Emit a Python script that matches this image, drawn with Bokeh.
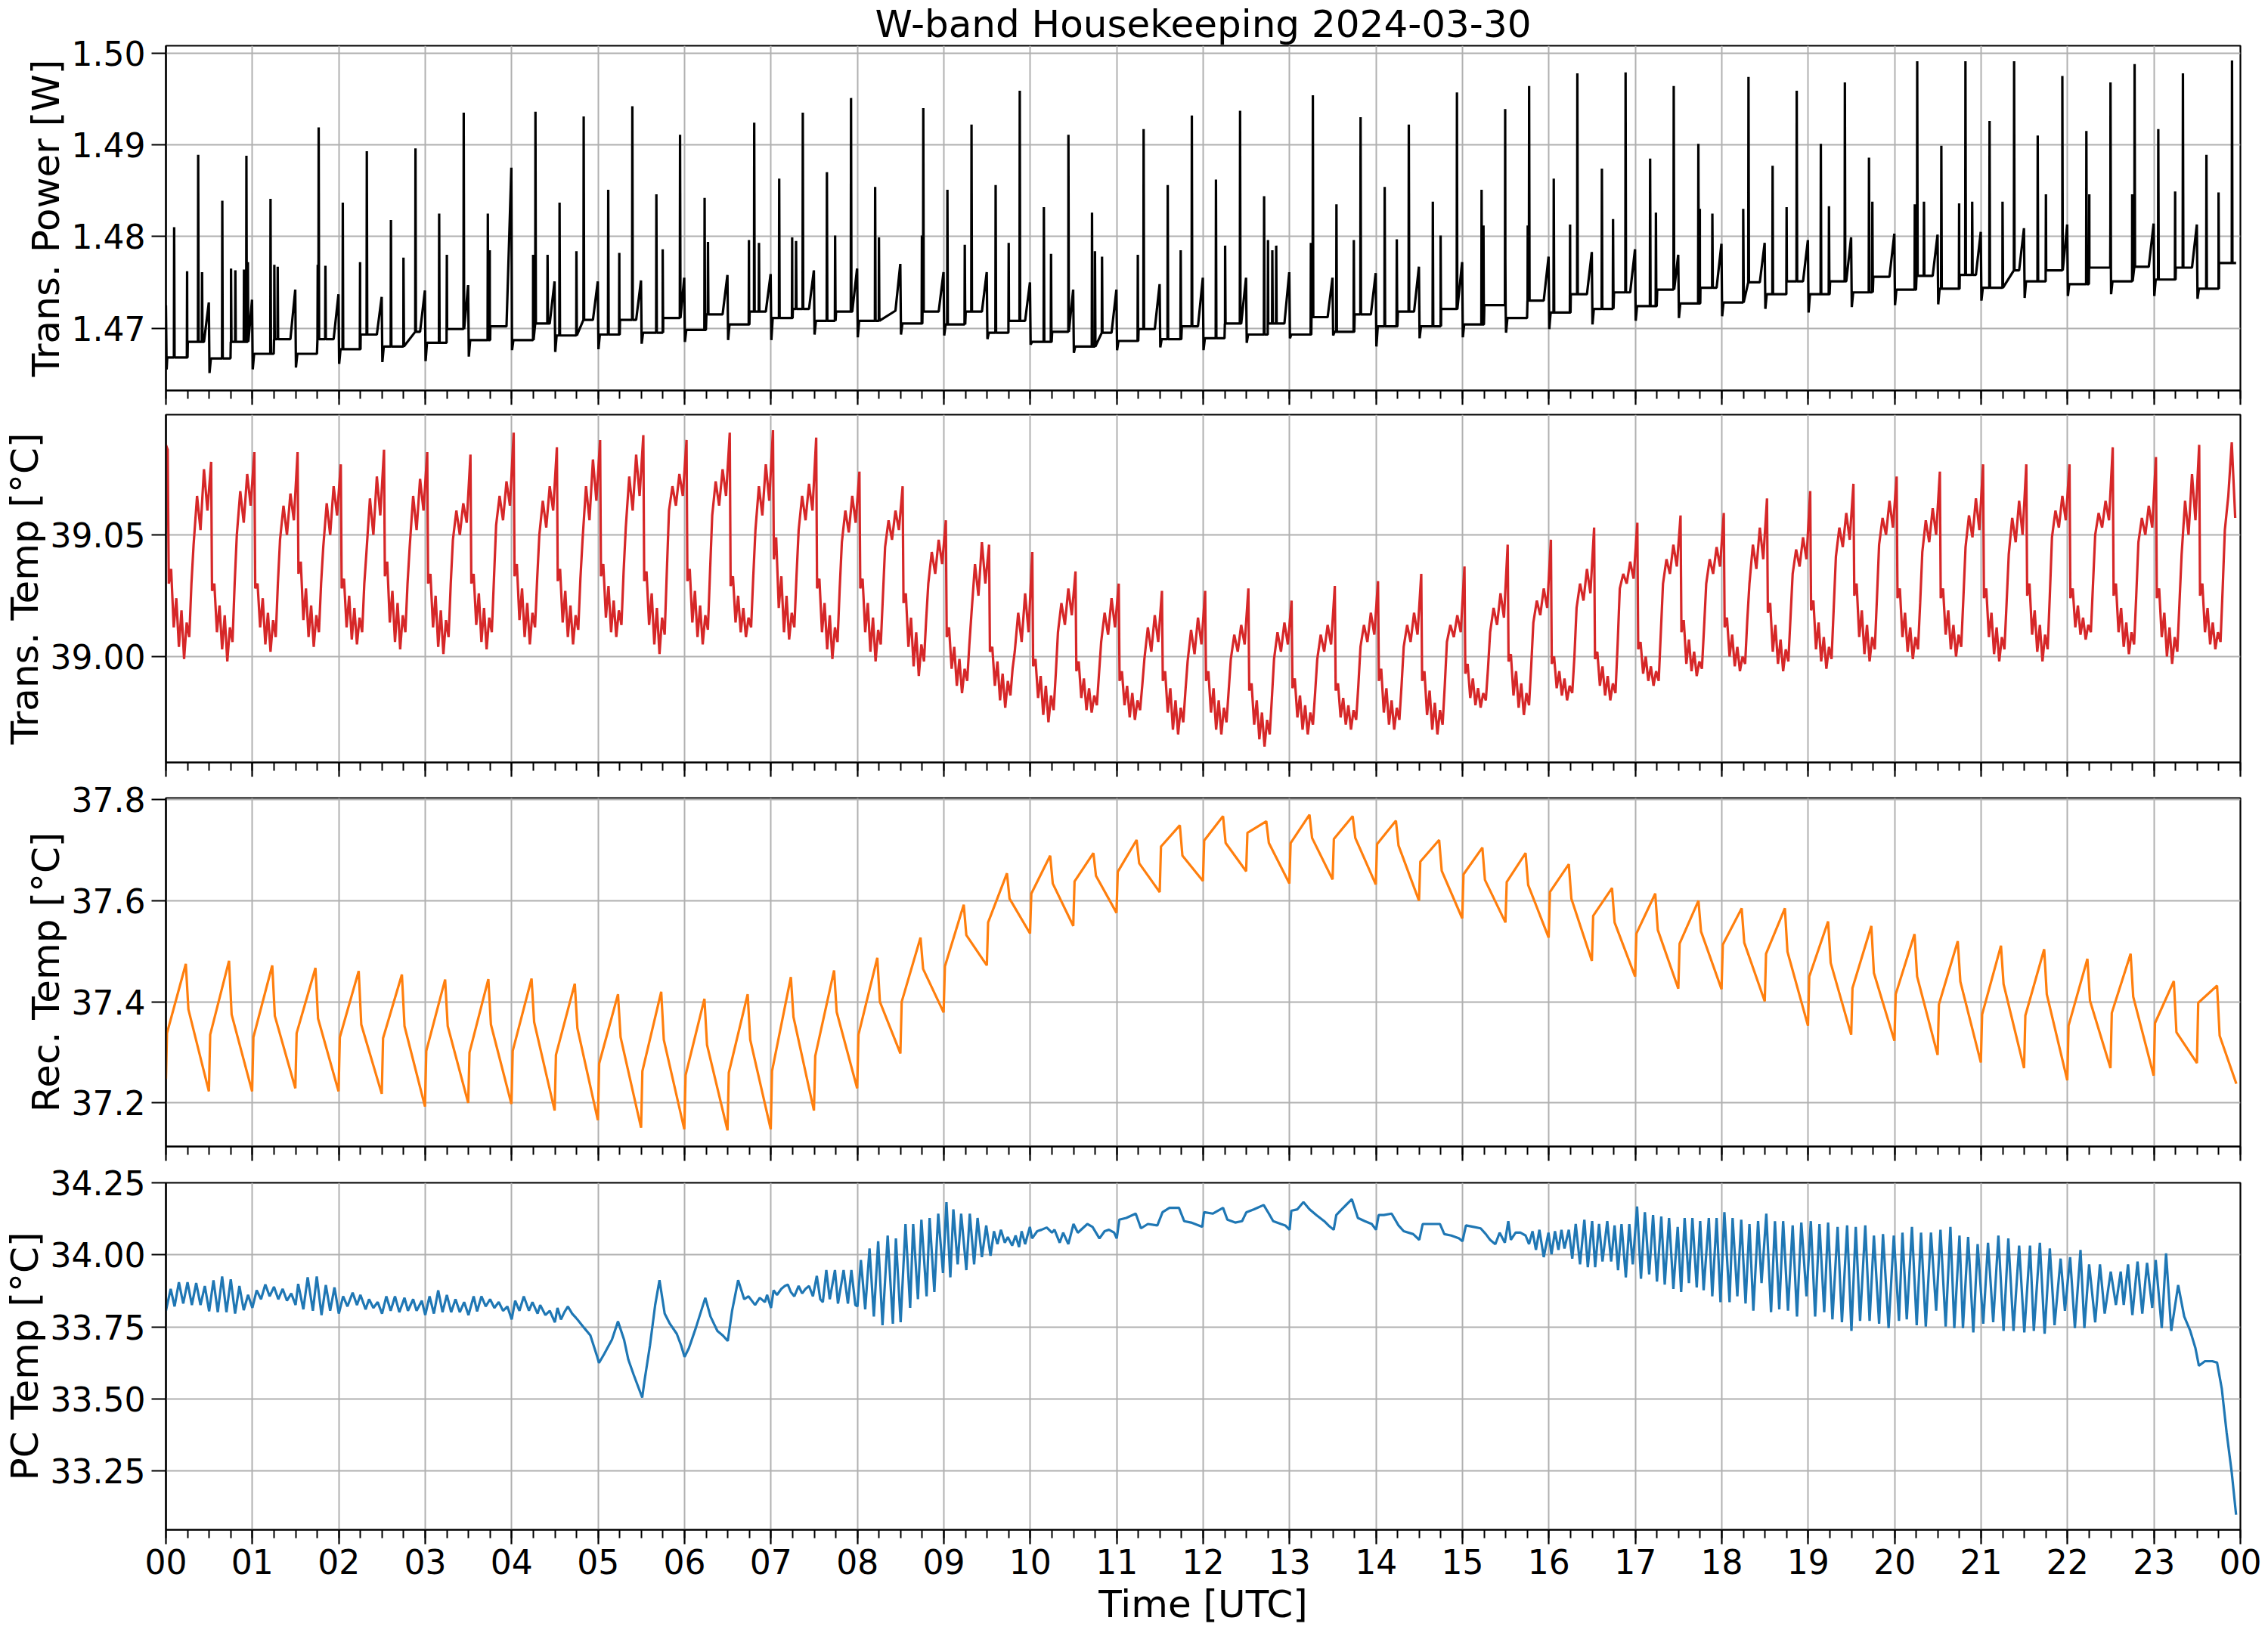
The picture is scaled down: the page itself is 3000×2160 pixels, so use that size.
from bokeh.plotting import figure
from bokeh.layouts import column
from bokeh.models import FixedTicker, PrintfTickFormatter, Range1d
from bokeh.embed import file_html
from bokeh.resources import INLINE

# ---------------- common axis data ----------------
hour_ticks = list(range(25))
hour_labels = ["00", "01", "02", "03", "04", "05", "06", "07", "08", "09", "10", "11",
               "12", "13", "14", "15", "16", "17", "18", "19", "20", "21", "22", "23", "00"]
quarter_ticks = [i * 0.25 for i in range(97)]
t_end = 23.953

# ---------------- Trans. Power [W] ----------------
pw_start = [1.4725, 1.4655]
# baseline level for each quarter hour (00:00-00:15, 00:15-00:30, ...)
pw_level = [1.4668, 1.4685, 1.4667, 1.4685, 1.4672, 1.4688, 1.4672, 1.4688,
            1.4677, 1.4693, 1.4680, 1.4696, 1.4684, 1.4699, 1.4687, 1.4702,
            1.4687, 1.4705, 1.4692, 1.4709, 1.4693, 1.4709, 1.4695, 1.4711,
            1.4698, 1.4715, 1.4704, 1.4718, 1.4711, 1.4721, 1.4708, 1.4718,
            1.4708, 1.4719, 1.4705, 1.4718, 1.4704, 1.4718, 1.4695, 1.4708,
            1.4685, 1.4696, 1.4680, 1.4695, 1.4686, 1.4699, 1.4688, 1.4702,
            1.4689, 1.4705, 1.4693, 1.4705, 1.4693, 1.4712, 1.4696, 1.4715,
            1.4702, 1.4718, 1.4702, 1.4721, 1.4704, 1.4725, 1.4711, 1.4730,
            1.4717, 1.4737, 1.4721, 1.4739, 1.4724, 1.4742, 1.4727, 1.4744,
            1.4728, 1.4750, 1.4737, 1.4751, 1.4737, 1.4751, 1.4739, 1.4756,
            1.4742, 1.4757, 1.4743, 1.4758, 1.4744, 1.4763, 1.4751, 1.4763,
            1.4748, 1.4766, 1.4751, 1.4767, 1.4753, 1.4766, 1.4743, 1.4771]
# ramp peak just before each half-hour drop (00:30, 01:00, ... 23:30)
pw_ramp = [1.4728, 1.4731, 1.4742, 1.4737, 1.4734, 1.4741, 1.4747, 1.4875,
           1.4751, 1.4751, 1.4752, 1.4755, 1.4758, 1.4759, 1.4763, 1.4765,
           1.4770, 1.4761, 1.4761, 1.4750, 1.4742, 1.4742, 1.4748, 1.4755,
           1.4755, 1.4761, 1.4755, 1.4760, 1.4767, 1.4772, 1.4775, 1.4778,
           1.4783, 1.4786, 1.4780, 1.4792, 1.4793, 1.4796, 1.4799, 1.4803,
           1.4802, 1.4805, 1.4809, 1.4813, 1.4815, 1.4814, 1.4813]
# dip right after each half-hour drop
pw_dip = [1.4651, 1.4655, 1.4657, 1.4661, 1.4663, 1.4664, 1.4669, 1.4676,
          1.4674, 1.4677, 1.4683, 1.4685, 1.4687, 1.4687, 1.4693, 1.4690,
          1.4693, 1.4692, 1.4688, 1.4682, 1.4673, 1.4676, 1.4679, 1.4676,
          1.4684, 1.4689, 1.4692, 1.4680, 1.4689, 1.4690, 1.4695, 1.4699,
          1.4704, 1.4708, 1.4711, 1.4713, 1.4721, 1.4717, 1.4723, 1.4725,
          1.4726, 1.4730, 1.4733, 1.4735, 1.4737, 1.4735, 1.4732]
pw_spike_t = [0.095, 0.245, 0.373, 0.418, 0.652, 0.753, 0.803, 0.903, 0.931, 0.948,
              1.210, 1.254, 1.293, 1.756, 1.767, 1.845, 2.046, 2.246, 2.324, 2.603,
              2.748, 2.887, 3.161, 3.250, 3.445, 3.724, 3.746, 4.248, 4.275, 4.415,
              4.554, 4.749, 4.833, 5.117, 5.245, 5.396, 5.674, 5.747, 5.948, 6.232,
              6.271, 6.745, 6.806, 6.861, 7.095, 7.245, 7.290, 7.368, 7.647, 7.742,
              7.926, 8.205, 8.249, 8.746, 8.762, 9.041, 9.242, 9.320, 9.599, 9.750,
              9.878, 10.157, 10.240, 10.441, 10.714, 10.748, 10.830, 11.244, 11.311, 11.590,
              11.740, 11.869, 12.148, 12.254, 12.427, 12.705, 12.750, 12.800, 12.845, 13.246,
              13.269, 13.542, 13.743, 13.821, 14.100, 14.240, 14.379, 14.657, 14.747, 14.936,
              15.221, 15.243, 15.494, 15.755, 15.771, 16.056, 16.245, 16.329, 16.613, 16.742,
              16.887, 17.171, 17.238, 17.444, 17.729, 17.746, 17.891, 18.248, 18.309, 18.588,
              18.750, 18.867, 19.146, 19.240, 19.424, 19.703, 19.742, 20.233, 20.261, 20.339,
              20.540, 20.746, 20.819, 20.897, 21.098, 21.248, 21.382, 21.655, 21.750, 21.940,
              22.218, 22.252, 22.497, 22.748, 22.776, 23.050, 23.245, 23.335, 23.607, 23.747,
              23.903]
pw_spike_v = [1.4810, 1.4762, 1.4889, 1.4761, 1.4839, 1.4765, 1.4763, 1.4764, 1.4888, 1.4772,
              1.4841, 1.4769, 1.4767, 1.4769, 1.4919, 1.4768, 1.4837, 1.4772, 1.4893, 1.4818,
              1.4777, 1.4896, 1.4825, 1.4780, 1.4935, 1.4825, 1.4785, 1.4780, 1.4936, 1.4780,
              1.4837, 1.4784, 1.4931, 1.4851, 1.4782, 1.4942, 1.4846, 1.4786, 1.4911, 1.4842,
              1.4794, 1.4796, 1.4924, 1.4793, 1.4863, 1.4799, 1.4795, 1.4935, 1.4870, 1.4801,
              1.4951, 1.4854, 1.4799, 1.4801, 1.4940, 1.4851, 1.4791, 1.4922, 1.4856, 1.4793,
              1.4959, 1.4832, 1.4781, 1.4911, 1.4826, 1.4784, 1.4778, 1.4780, 1.4917, 1.4856,
              1.4785, 1.4932, 1.4862, 1.4790, 1.4937, 1.4844, 1.4796, 1.4785, 1.4790, 1.4793,
              1.4954, 1.4835, 1.4796, 1.4930, 1.4854, 1.4797, 1.4922, 1.4838, 1.4801, 1.4957,
              1.4851, 1.4812, 1.4939, 1.4812, 1.4964, 1.4863, 1.4813, 1.4978, 1.4874, 1.4819,
              1.4979, 1.4885, 1.4826, 1.4964, 1.4901, 1.4830, 1.4825, 1.4830, 1.4974, 1.4877,
              1.4832, 1.4959, 1.4901, 1.4833, 1.4968, 1.4886, 1.4838, 1.4835, 1.4991, 1.4838,
              1.4899, 1.4836, 1.4991, 1.4838, 1.4926, 1.4838, 1.4991, 1.4910, 1.4846, 1.4975,
              1.4915, 1.4846, 1.4968, 1.4846, 1.4988, 1.4917, 1.4849, 1.4978, 1.4889, 1.4848,
              1.4992]

# ---------------- Trans. Temp [°C] ----------------
tt_start_t = [0.0, 0.02]
tt_start_v = [39.087, 39.085]
# sample offsets (h) within each half-hour cycle, measured from its drop
tt_offsets = [0.003, 0.03, 0.06, 0.09, 0.12, 0.15, 0.18, 0.21, 0.24, 0.265,
              0.29, 0.33, 0.37, 0.41, 0.45, 0.493]
tt_values = [
    39.030, 39.036, 39.012, 39.024, 39.004, 39.019, 38.999, 39.014, 39.008, 39.030, 39.046, 39.066, 39.052, 39.077, 39.060, 39.080,
    39.027, 39.030, 39.010, 39.021, 39.003, 39.017, 38.998, 39.012, 39.006, 39.030, 39.050, 39.068, 39.055, 39.075, 39.062, 39.084,
    39.028, 39.030, 39.012, 39.024, 39.005, 39.018, 39.002, 39.015, 39.008, 39.030, 39.048, 39.062, 39.050, 39.067, 39.056, 39.084,
    39.034, 39.039, 39.015, 39.028, 39.008, 39.021, 39.004, 39.017, 39.010, 39.030, 39.045, 39.063, 39.050, 39.070, 39.058, 39.079,
    39.028, 39.032, 39.012, 39.025, 39.007, 39.020, 39.005, 39.016, 39.010, 39.030, 39.043, 39.065, 39.050, 39.074, 39.058, 39.085,
    39.033, 39.039, 39.014, 39.027, 39.006, 39.022, 39.003, 39.017, 39.010, 39.030, 39.045, 39.066, 39.052, 39.073, 39.060, 39.084,
    39.030, 39.034, 39.012, 39.025, 39.004, 39.019, 39.001, 39.015, 39.008, 39.030, 39.048, 39.060, 39.050, 39.063, 39.055, 39.083,
    39.030, 39.034, 39.013, 39.026, 39.006, 39.020, 39.003, 39.016, 39.010, 39.032, 39.054, 39.066, 39.056, 39.072, 39.062, 39.092,
    39.033, 39.038, 39.015, 39.028, 39.008, 39.022, 39.005, 39.018, 39.012, 39.032, 39.050, 39.064, 39.053, 39.070, 39.060, 39.086,
    39.031, 39.036, 39.014, 39.027, 39.008, 39.021, 39.005, 39.017, 39.011, 39.032, 39.048, 39.070, 39.056, 39.081, 39.064, 39.089,
    39.033, 39.038, 39.016, 39.029, 39.010, 39.023, 39.008, 39.019, 39.013, 39.035, 39.053, 39.074, 39.060, 39.083, 39.066, 39.091,
    39.031, 39.035, 39.013, 39.026, 39.005, 39.020, 39.001, 39.016, 39.009, 39.035, 39.060, 39.070, 39.062, 39.075, 39.066, 39.089,
    39.031, 39.036, 39.014, 39.027, 39.008, 39.021, 39.005, 39.017, 39.011, 39.035, 39.058, 39.072, 39.062, 39.077, 39.066, 39.092,
    39.029, 39.033, 39.014, 39.025, 39.010, 39.020, 39.008, 39.016, 39.012, 39.033, 39.052, 39.070, 39.058, 39.079, 39.064, 39.093,
    39.040, 39.049, 39.020, 39.033, 39.010, 39.025, 39.007, 39.018, 39.012, 39.033, 39.052, 39.066, 39.056, 39.071, 39.060, 39.090,
    39.028, 39.032, 39.010, 39.022, 39.003, 39.017, 38.999, 39.012, 39.006, 39.028, 39.047, 39.060, 39.051, 39.066, 39.055, 39.076,
    39.028, 39.032, 39.010, 39.022, 39.002, 39.016, 38.998, 39.011, 39.005, 39.025, 39.045, 39.056, 39.048, 39.060, 39.052, 39.070,
    39.022, 39.026, 39.004, 39.016, 38.996, 39.010, 38.992, 39.005, 38.998, 39.015, 39.030, 39.043, 39.034, 39.048, 39.038, 39.056,
    39.008, 39.012, 38.995, 39.004, 38.988, 38.999, 38.985, 38.995, 38.990, 39.005, 39.018, 39.038, 39.025, 39.047, 39.030, 39.046,
    39.002, 39.004, 38.988, 38.998, 38.982, 38.993, 38.979, 38.990, 38.984, 38.995, 39.002, 39.018, 39.006, 39.026, 39.010, 39.043,
    38.996, 38.999, 38.983, 38.992, 38.976, 38.988, 38.973, 38.984, 38.978, 38.993, 39.010, 39.022, 39.013, 39.028, 39.017, 39.035,
    38.994, 38.998, 38.983, 38.991, 38.978, 38.987, 38.977, 38.984, 38.980, 38.993, 39.006, 39.018, 39.009, 39.024, 39.012, 39.030,
    38.990, 38.994, 38.980, 38.988, 38.975, 38.985, 38.974, 38.982, 38.978, 38.988, 38.999, 39.012, 39.002, 39.017, 39.006, 39.027,
    38.990, 38.994, 38.977, 38.987, 38.970, 38.982, 38.968, 38.979, 38.973, 38.986, 38.998, 39.011, 39.001, 39.016, 39.005, 39.027,
    38.990, 38.994, 38.977, 38.987, 38.970, 38.982, 38.968, 38.979, 38.973, 38.986, 38.999, 39.009, 39.002, 39.013, 39.005, 39.028,
    38.986, 38.989, 38.972, 38.982, 38.966, 38.977, 38.963, 38.974, 38.968, 38.983, 38.999, 39.010, 39.002, 39.014, 39.005, 39.023,
    38.987, 38.991, 38.975, 38.984, 38.970, 38.980, 38.968, 38.977, 38.972, 38.985, 38.999, 39.009, 39.002, 39.013, 39.005, 39.029,
    38.986, 38.989, 38.975, 38.983, 38.972, 38.980, 38.970, 38.978, 38.974, 38.988, 39.004, 39.013, 39.006, 39.018, 39.009, 39.031,
    38.990, 38.995, 38.977, 38.987, 38.972, 38.982, 38.970, 38.979, 38.974, 38.988, 39.004, 39.013, 39.006, 39.018, 39.009, 39.034,
    38.990, 38.994, 38.976, 38.986, 38.970, 38.981, 38.968, 38.978, 38.972, 38.988, 39.006, 39.013, 39.008, 39.017, 39.010, 39.037,
    38.993, 38.997, 38.983, 38.991, 38.980, 38.987, 38.979, 38.985, 38.982, 38.995, 39.010, 39.020, 39.013, 39.026, 39.016, 39.046,
    38.998, 39.001, 38.984, 38.994, 38.979, 38.989, 38.976, 38.985, 38.980, 38.996, 39.014, 39.023, 39.017, 39.028, 39.020, 39.048,
    38.997, 39.000, 38.987, 38.994, 38.984, 38.991, 38.982, 38.988, 38.985, 39.000, 39.020, 39.030, 39.023, 39.036, 39.026, 39.053,
    38.999, 39.002, 38.988, 38.996, 38.984, 38.992, 38.982, 38.989, 38.985, 39.005, 39.028, 39.034, 39.030, 39.039, 39.032, 39.055,
    39.003, 39.006, 38.993, 39.000, 38.990, 38.996, 38.988, 38.994, 38.990, 39.010, 39.030, 39.040, 39.034, 39.046, 39.037, 39.058,
    39.010, 39.015, 38.997, 39.007, 38.994, 39.002, 38.992, 38.998, 38.995, 39.012, 39.030, 39.040, 39.034, 39.045, 39.037, 39.059,
    39.012, 39.016, 39.000, 39.009, 38.996, 39.004, 38.994, 39.000, 38.997, 39.015, 39.030, 39.046, 39.036, 39.053, 39.040, 39.065,
    39.018, 39.022, 39.002, 39.013, 38.997, 39.007, 38.994, 39.003, 38.998, 39.016, 39.034, 39.044, 39.037, 39.049, 39.040, 39.068,
    39.019, 39.023, 39.003, 39.014, 38.998, 39.008, 38.995, 39.004, 38.999, 39.020, 39.041, 39.053, 39.045, 39.059, 39.048, 39.071,
    39.025, 39.030, 39.008, 39.019, 39.001, 39.013, 38.998, 39.008, 39.003, 39.024, 39.046, 39.057, 39.050, 39.064, 39.053, 39.074,
    39.024, 39.028, 39.008, 39.018, 39.002, 39.012, 38.999, 39.008, 39.003, 39.022, 39.043, 39.056, 39.047, 39.061, 39.050, 39.076,
    39.024, 39.028, 39.009, 39.019, 39.003, 39.013, 39.000, 39.009, 39.004, 39.024, 39.045, 39.058, 39.049, 39.065, 39.052, 39.079,
    39.024, 39.028, 39.008, 39.018, 39.001, 39.012, 38.998, 39.008, 39.003, 39.022, 39.042, 39.057, 39.047, 39.064, 39.050, 39.079,
    39.025, 39.030, 39.009, 39.019, 39.002, 39.013, 38.998, 39.009, 39.003, 39.025, 39.049, 39.060, 39.053, 39.066, 39.056, 39.079,
    39.024, 39.028, 39.012, 39.021, 39.009, 39.016, 39.007, 39.013, 39.010, 39.030, 39.050, 39.059, 39.053, 39.064, 39.056, 39.086,
    39.025, 39.030, 39.010, 39.020, 39.004, 39.014, 39.001, 39.010, 39.005, 39.025, 39.047, 39.057, 39.050, 39.062, 39.053, 39.082,
    39.024, 39.028, 39.008, 39.018, 39.000, 39.012, 38.997, 39.008, 39.002, 39.022, 39.042, 39.064, 39.050, 39.075, 39.056, 39.087,
    39.025, 39.030, 39.010, 39.020, 39.005, 39.014, 39.003, 39.010, 39.006, 39.028, 39.052, 39.066, 39.088, 39.057, 39.060, 39.070,
]

# ---------------- Rec. Temp [°C] ----------------
rec_start = 37.248
rec_jump = [37.338, 37.335, 37.330, 37.338, 37.330, 37.328, 37.303, 37.300, 37.303, 37.295,
            37.278, 37.263, 37.255, 37.260, 37.263, 37.293, 37.335, 37.400, 37.470, 37.557,
            37.614, 37.638, 37.657, 37.707, 37.719, 37.734, 37.714, 37.722, 37.712, 37.677,
            37.652, 37.637, 37.617, 37.570, 37.535, 37.515, 37.513, 37.495, 37.450, 37.427,
            37.415, 37.395, 37.375, 37.373, 37.353, 37.378, 37.358, 37.398]
rec_peak = [37.475, 37.481, 37.472, 37.467, 37.461, 37.454, 37.444, 37.445, 37.446, 37.436,
            37.415, 37.420, 37.406, 37.415, 37.449, 37.462, 37.487, 37.527, 37.592, 37.654,
            37.689, 37.694, 37.720, 37.749, 37.767, 37.757, 37.770, 37.767, 37.758, 37.720,
            37.705, 37.694, 37.672, 37.625, 37.614, 37.600, 37.585, 37.585, 37.559, 37.550,
            37.534, 37.520, 37.511, 37.504, 37.485, 37.495, 37.441, 37.432]
rec_drop = [37.385, 37.375, 37.372, 37.367, 37.355, 37.352, 37.352, 37.355, 37.360, 37.348,
            37.330, 37.325, 37.315, 37.325, 37.370, 37.380, 37.400, 37.465, 37.532, 37.604,
            37.634, 37.649, 37.674, 37.689, 37.714, 37.714, 37.724, 37.724, 37.709, 37.659,
            37.641, 37.631, 37.604, 37.557, 37.542, 37.539, 37.517, 37.499, 37.477, 37.457,
            37.450, 37.440, 37.435, 37.415, 37.402, 37.410, 37.340, 37.333]
rec_min = [37.223, 37.223, 37.229, 37.223, 37.218, 37.193, 37.200, 37.198, 37.185, 37.166,
           37.151, 37.148, 37.146, 37.148, 37.185, 37.229, 37.298, 37.379, 37.472, 37.535,
           37.550, 37.576, 37.617, 37.639, 37.658, 37.634, 37.642, 37.632, 37.600, 37.565,
           37.557, 37.527, 37.481, 37.450, 37.426, 37.425, 37.401, 37.353, 37.335, 37.323,
           37.295, 37.280, 37.269, 37.245, 37.269, 37.254, 37.279, 37.238]

# ---------------- PC Temp [°C] ----------------
pc_t = [0.00, 0.055, 0.10, 0.15, 0.20, 0.25, 0.30, 0.35, 0.40, 0.45, 0.50, 0.55, 0.60, 0.65, 0.70,
        0.75, 0.80, 0.85, 0.90, 0.95, 1.00, 1.05, 1.10, 1.15, 1.20, 1.25, 1.30, 1.35, 1.40, 1.45,
        1.50, 1.53, 1.59, 1.64, 1.70, 1.745, 1.80, 1.85, 1.90, 1.95, 2.00, 2.05, 2.10, 2.16, 2.21,
        2.25, 2.31, 2.35, 2.40, 2.45, 2.50, 2.55, 2.60, 2.65, 2.70, 2.76, 2.80, 2.86, 2.90, 2.96,
        3.00, 3.05, 3.10, 3.15, 3.20, 3.25, 3.30, 3.35, 3.40, 3.45, 3.50, 3.56, 3.60, 3.65, 3.70,
        3.75, 3.80, 3.85, 3.90, 3.95, 4.00, 4.04, 4.09, 4.14, 4.20, 4.24, 4.30, 4.33, 4.39, 4.44,
        4.50, 4.53, 4.57, 4.61, 4.65, 4.70, 4.76, 4.84, 4.91, 4.99, 5.01, 5.07, 5.16, 5.23, 5.30,
        5.35, 5.41, 5.46, 5.51, 5.535, 5.60, 5.66, 5.71, 5.77, 5.83, 5.91, 5.96, 6.00, 6.05, 6.13,
        6.24, 6.30, 6.38, 6.44, 6.50, 6.55, 6.62, 6.69, 6.74, 6.816, 6.87, 6.93, 6.955, 7.00, 7.03,
        7.07, 7.12, 7.16, 7.195, 7.23, 7.27, 7.32, 7.36, 7.40, 7.44, 7.485, 7.53, 7.57, 7.60, 7.64,
        7.68, 7.74, 7.775, 7.84, 7.89, 7.93, 7.976, 8.00, 8.04, 8.09, 8.14, 8.19, 8.24, 8.29, 8.35,
        8.41, 8.445, 8.50, 8.556, 8.61, 8.645, 8.70, 8.74, 8.80, 8.835, 8.89, 8.935, 8.99, 9.03, 9.075,
        9.11, 9.16, 9.20, 9.26, 9.30, 9.35, 9.39, 9.44, 9.49, 9.54, 9.58, 9.62, 9.66, 9.705, 9.74,
        9.79, 9.83, 9.87, 9.90, 9.94, 9.995, 10.02, 10.08, 10.13, 10.19, 10.25, 10.28, 10.34, 10.38, 10.44,
        10.50, 10.55, 10.66, 10.72, 10.80, 10.86, 10.91, 10.97, 11.00, 11.03, 11.11, 11.22, 11.28, 11.36, 11.47,
        11.53, 11.61, 11.72, 11.78, 11.86, 11.95, 11.99, 12.01, 12.11, 12.23, 12.28, 12.37, 12.45, 12.50, 12.59,
        12.70, 12.76, 12.81, 12.90, 12.95, 13.00, 13.02, 13.09, 13.16, 13.23, 13.31, 13.40, 13.45, 13.51, 13.54,
        13.62, 13.72, 13.79, 13.87, 13.95, 14.00, 14.03, 14.09, 14.18, 14.26, 14.32, 14.43, 14.50, 14.54, 14.63,
        14.74, 14.79, 14.87, 14.96, 15.00, 15.04, 15.13, 15.21, 15.27, 15.32, 15.38, 15.43, 15.49, 15.53, 15.56,
        15.615, 15.67, 15.73, 15.77, 15.81, 15.85, 15.89, 15.94, 15.995, 16.03, 16.07, 16.11, 16.145, 16.18, 16.23,
        16.27, 16.31, 16.36, 16.41, 16.45, 16.50, 16.535, 16.58, 16.62, 16.675, 16.72, 16.76, 16.80, 16.84, 16.89,
        16.93, 16.97, 17.02, 17.065, 17.11, 17.16, 17.205, 17.25, 17.30, 17.34, 17.39, 17.44, 17.49, 17.53, 17.57,
        17.62, 17.66, 17.71, 17.75, 17.79, 17.85, 17.89, 17.94, 17.985, 18.03, 18.09, 18.125, 18.18, 18.225, 18.275,
        18.32, 18.365, 18.42, 18.46, 18.515, 18.57, 18.615, 18.665, 18.71, 18.766, 18.82, 18.87, 18.92, 18.98, 19.03,
        19.08, 19.13, 19.185, 19.23, 19.28, 19.34, 19.39, 19.45, 19.50, 19.55, 19.60, 19.66, 19.71, 19.76, 19.82,
        19.865, 19.93, 19.99, 20.05, 20.09, 20.14, 20.20, 20.255, 20.305, 20.36, 20.42, 20.48, 20.53, 20.59, 20.645,
        20.69, 20.75, 20.79, 20.85, 20.91, 20.96, 21.025, 21.08, 21.14, 21.20, 21.26, 21.315, 21.375, 21.44, 21.50,
        21.566, 21.61, 21.68, 21.735, 21.795, 21.85, 21.92, 21.97, 22.03, 22.085, 22.15, 22.195, 22.25, 22.32, 22.375,
        22.43, 22.50, 22.56, 22.615, 22.65, 22.70, 22.75, 22.81, 22.865, 22.92, 22.98, 23.02, 23.09, 23.14, 23.20,
        23.28, 23.35, 23.42, 23.48, 23.52, 23.59, 23.675, 23.73, 23.785, 23.84, 23.90, 23.95]
pc_v = [33.806, 33.882, 33.821, 33.905, 33.831, 33.905, 33.826, 33.902, 33.826, 33.892, 33.804, 33.912, 33.801, 33.925, 33.801,
        33.915, 33.796, 33.892, 33.808, 33.861, 33.816, 33.877, 33.846, 33.897, 33.856, 33.889, 33.846, 33.882, 33.841, 33.866,
        33.826, 33.899, 33.811, 33.922, 33.806, 33.925, 33.791, 33.895, 33.806, 33.887, 33.796, 33.856, 33.821, 33.869, 33.826,
        33.861, 33.811, 33.846, 33.816, 33.836, 33.796, 33.856, 33.806, 33.856, 33.801, 33.851, 33.806, 33.846, 33.806, 33.841,
        33.791, 33.856, 33.796, 33.877, 33.801, 33.861, 33.801, 33.846, 33.801, 33.836, 33.791, 33.856, 33.804, 33.856, 33.821,
        33.846, 33.816, 33.836, 33.806, 33.821, 33.776, 33.841, 33.806, 33.856, 33.806, 33.836, 33.796, 33.826, 33.791, 33.806,
        33.766, 33.816, 33.776, 33.801, 33.821, 33.796, 33.776, 33.746, 33.721, 33.646, 33.625, 33.656, 33.706, 33.769, 33.706,
        33.636, 33.585, 33.545, 33.505, 33.560, 33.686, 33.826, 33.912, 33.796, 33.761, 33.726, 33.686, 33.646, 33.676, 33.746,
        33.851, 33.786, 33.736, 33.721, 33.701, 33.806, 33.912, 33.846, 33.856, 33.826, 33.851, 33.836, 33.861, 33.816, 33.877,
        33.861, 33.882, 33.892, 33.897, 33.871, 33.856, 33.892, 33.866, 33.882, 33.892, 33.856, 33.927, 33.846, 33.836, 33.947,
        33.846, 33.947, 33.831, 33.947, 33.831, 33.947, 33.826, 33.821, 33.982, 33.811, 34.022, 33.786, 34.047, 33.756, 34.067,
        33.761, 34.057, 33.766, 34.107, 33.816, 34.107, 33.846, 34.122, 33.856, 34.128, 33.871, 34.143, 33.937, 34.183, 33.922,
        34.158, 33.967, 34.143, 33.947, 34.143, 33.967, 34.128, 33.992, 34.102, 33.997, 34.082, 34.037, 34.087, 34.042, 34.062,
        34.032, 34.067, 34.027, 34.082, 34.037, 34.097, 34.057, 34.082, 34.087, 34.095, 34.077, 34.087, 34.042, 34.077, 34.037,
        34.107, 34.077, 34.107, 34.097, 34.057, 34.082, 34.087, 34.077, 34.057, 34.122, 34.128, 34.143, 34.092, 34.107, 34.102,
        34.148, 34.163, 34.163, 34.117, 34.112, 34.102, 34.097, 34.148, 34.143, 34.163, 34.122, 34.112, 34.117, 34.148, 34.158,
        34.173, 34.143, 34.117, 34.107, 34.102, 34.087, 34.153, 34.158, 34.183, 34.158, 34.138, 34.117, 34.102, 34.087, 34.138,
        34.163, 34.193, 34.128, 34.117, 34.107, 34.087, 34.138, 34.138, 34.143, 34.102, 34.082, 34.072, 34.052, 34.107, 34.107,
        34.107, 34.072, 34.067, 34.057, 34.047, 34.102, 34.097, 34.092, 34.072, 34.052, 34.037, 34.077, 34.042, 34.117, 34.052,
        34.077, 34.077, 34.067, 34.037, 34.082, 34.017, 34.087, 33.992, 34.077, 34.002, 34.082, 34.017, 34.087, 34.022, 34.087,
        33.987, 34.107, 33.967, 34.122, 33.957, 34.117, 33.957, 34.107, 33.977, 34.117, 33.977, 34.102, 33.947, 34.107, 33.922,
        34.107, 33.967, 34.168, 33.917, 34.148, 33.932, 34.138, 33.907, 34.133, 33.897, 34.128, 33.882, 34.097, 33.871, 34.128,
        33.902, 34.128, 33.887, 34.117, 33.877, 34.128, 33.856, 34.128, 33.836, 34.148, 33.836, 34.128, 33.856, 34.122, 33.831,
        34.107, 33.806, 34.117, 33.902, 34.143, 33.801, 34.117, 33.811, 34.117, 33.806, 34.102, 33.786, 34.112, 33.856, 34.117,
        33.786, 34.107, 33.801, 34.112, 33.776, 34.097, 33.766, 34.102, 33.736, 34.097, 33.771, 34.102, 33.771, 34.067, 33.761,
        34.072, 33.746, 34.067, 33.771, 34.077, 33.776, 34.097, 33.756, 34.077, 33.751, 34.077, 33.806, 34.087, 33.751, 34.097,
        33.746, 34.067, 33.746, 34.062, 33.731, 34.037, 33.761, 34.042, 33.766, 34.067, 33.736, 34.057, 33.736, 34.032, 33.731,
        34.032, 33.736, 34.042, 33.726, 34.022, 33.756, 33.987, 33.806, 33.992, 33.746, 34.017, 33.746, 33.967, 33.766, 33.967,
        33.796, 33.942, 33.826, 33.942, 33.826, 33.967, 33.791, 33.977, 33.796, 33.972, 33.816, 33.982, 33.746, 34.005, 33.736,
        33.895, 33.786, 33.736, 33.676, 33.615, 33.631, 33.631, 33.626, 33.535, 33.385, 33.244, 33.098]


# ---------------- build the line series ----------------
def power_series():
    pts = [(0.0, pw_start[0]), (0.008, pw_start[1])]
    for q, lev in enumerate(pw_level):
        t0 = 0.25 * q
        t1 = min(0.25 * (q + 1), t_end)
        start = t0 + (0.02 if (q % 2 == 0 and q > 0) else 0.003)
        if q == 0:
            start = 0.015
        pts.append((start, lev))
        if q % 2 == 1 and q < 95:
            k = (q - 1) // 2
            pts.append((t1 - 0.06, lev))
            pts.append((t1 - 0.004, pw_ramp[k]))
            pts.append((t1 + 0.004, pw_dip[k]))
        else:
            pts.append((t1 - 0.003, lev))
    for ts, vs in zip(pw_spike_t, pw_spike_v):
        base = pw_level[min(int(ts / 0.25), 95)]
        pts += [(ts - 0.003, base), (ts, vs), (ts + 0.005, base)]
    pts.sort(key=lambda p: p[0])
    return [p[0] for p in pts], [p[1] for p in pts]


def trans_temp_series():
    xs = list(tt_start_t)
    ys = list(tt_start_v)
    n = len(tt_offsets)
    for k in range(len(tt_values) // n):
        s = 0.5 * k + 0.03
        for o, val in zip(tt_offsets, tt_values[k * n:(k + 1) * n]):
            if s + o <= t_end + 0.002:
                xs.append(s + o)
                ys.append(val)
    return xs, ys


def rec_series():
    xs = [0.0]
    ys = [rec_start]
    for k in range(len(rec_jump)):
        t0 = 0.5 * k
        for o, val in ((0.012, rec_jump[k]), (0.23, rec_peak[k]),
                       (0.26, rec_drop[k]), (0.497, rec_min[k])):
            xs.append(min(t0 + o, t_end))
            ys.append(val)
    return xs, ys


pw_x, pw_y = power_series()
tt_x, tt_y = trans_temp_series()
rc_x, rc_y = rec_series()

# ---------------- figures ----------------
FONT = "DejaVu Sans"
FW = 2744
LW = 3.2


def make_fig(frame_h, b_top, b_bot, yr, yticks, fmt, ylabel, show_x):
    p = figure(frame_width=FW, frame_height=frame_h,
               x_range=Range1d(0, 24), y_range=Range1d(yr[0], yr[1]),
               output_backend="svg", toolbar_location=None,
               min_border_left=212, min_border_right=28,
               min_border_top=b_top, min_border_bottom=b_bot)
    p.background_fill_color = "white"
    p.border_fill_color = "white"
    p.outline_line_color = "#000000"
    p.outline_line_width = 2.2

    p.xaxis.ticker = FixedTicker(ticks=hour_ticks, minor_ticks=quarter_ticks)
    p.yaxis.ticker = FixedTicker(ticks=yticks)
    p.yaxis.formatter = PrintfTickFormatter(format=fmt)

    for ax in (p.xaxis[0], p.yaxis[0]):
        ax.axis_line_color = "#000000"
        ax.axis_line_width = 2.2
        ax.major_tick_line_color = "#000000"
        ax.major_tick_line_width = 2.2
        ax.major_tick_out = 19
        ax.major_tick_in = 0
        ax.minor_tick_line_color = "#000000"
        ax.minor_tick_line_width = 2.0
        ax.minor_tick_out = 11
        ax.minor_tick_in = 0
        ax.major_label_text_font = FONT
        ax.major_label_text_font_size = "44px"
        ax.major_label_text_color = "#000000"
        ax.axis_label_text_font = FONT
        ax.axis_label_text_font_size = "50px"
        ax.axis_label_text_font_style = "normal"
        ax.axis_label_text_color = "#000000"
    p.yaxis.minor_tick_line_color = None
    p.yaxis.major_label_standoff = 8
    p.yaxis.axis_label = ylabel
    p.yaxis.axis_label_standoff = 2

    if show_x:
        p.xaxis.major_label_overrides = {i: lab for i, lab in zip(hour_ticks, hour_labels)}
        p.xaxis.major_label_standoff = 6
        p.xaxis.axis_label = "Time [UTC]"
        p.xaxis.axis_label_standoff = 8
    else:
        # shared time axis: tick marks only, labels are not drawn
        p.xaxis.major_label_text_color = None
        p.xaxis.major_label_standoff = 0

    p.grid.grid_line_color = "#b0b0b0"
    p.grid.grid_line_width = 2
    p.xgrid.ticker = FixedTicker(ticks=hour_ticks)
    p.ygrid.ticker = FixedTicker(ticks=yticks)
    return p


p1 = make_fig(456, 48, 22, (1.4632, 1.5008), [1.47, 1.48, 1.49, 1.50], "%.2f",
              "Trans. Power [W]", False)
p1.title.text = "W-band Housekeeping 2024-03-30"
p1.title.align = "center"
p1.title.text_font = FONT
p1.title.text_font_size = "50px"
p1.title.text_font_style = "normal"
p1.title.text_color = "#000000"
p1.title.standoff = 0
p1.line(pw_x, pw_y, line_color="#000000", line_width=LW)

p2 = make_fig(460, 10, 23, (38.9565, 39.0994), [39.00, 39.05], "%.2f",
              "Trans. Temp [°C]", False)
p2.line(tt_x, tt_y, line_color="#d62728", line_width=LW)

p3 = make_fig(461, 24, 24, (37.114, 37.803), [37.2, 37.4, 37.6, 37.8], "%.1f",
              "Rec. Temp [°C]", False)
p3.line(rc_x, rc_y, line_color="#ff7f0e", line_width=LW)

p4 = make_fig(459, 24, 118, (33.046, 34.25), [33.25, 33.50, 33.75, 34.00, 34.25], "%.2f",
              "PC Temp [°C]", True)
p4.line(pc_t, pc_v, line_color="#1f77b4", line_width=LW)

layout = column(p1, p2, p3, p4, spacing=0)
open("out.html", "w").write(file_html(layout, INLINE))
